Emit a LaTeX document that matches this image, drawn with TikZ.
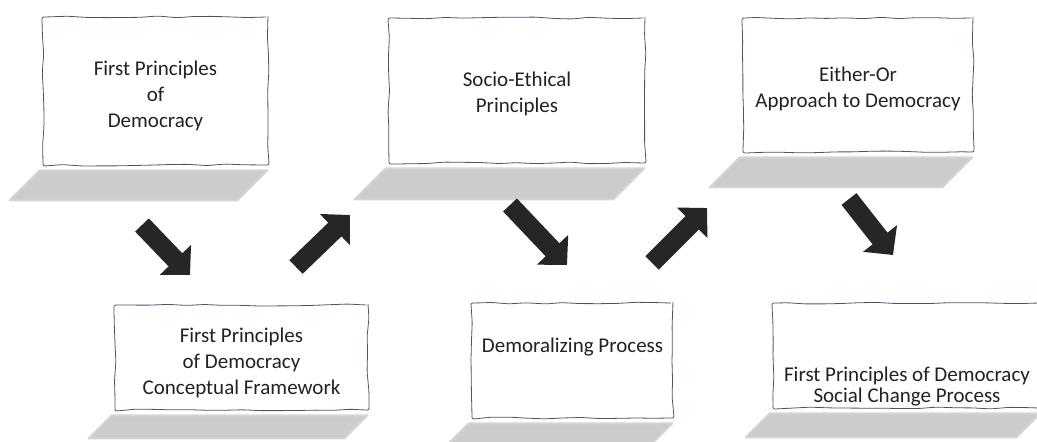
\documentclass[tikz,border=0pt]{standalone}
\usepackage{fontspec}
\setmainfont{Carlito}
\usetikzlibrary{arrows.meta,calc,decorations.pathmorphing}
\definecolor{edge}{HTML}{4A5668}
\definecolor{ink}{HTML}{222222}
\definecolor{arrowgray}{HTML}{262626}
\tikzset{
  paper/.style={draw=edge, line width=.8pt, fill=white, rounded corners=2pt,
    decorate, decoration={random steps, segment length=18pt, amplitude=1pt}},
  caption/.style={align=center, text=ink, inner sep=0pt,
    font=\fontsize{21}{26}\selectfont},
  drop/.style={fill=gray!40, draw=gray!33, line width=2pt, line join=round},
  bigarrow/.style={draw=arrowgray, line width=19pt,
    -{Triangle[length=21pt,width=42pt]}}
}

\begin{document}
\begin{tikzpicture}[x=1pt, y=-1pt]
  \useasboundingbox (0,0) rectangle (1037,442);

  % upper row
  \node (b1) [paper, minimum width=225pt, minimum height=148pt] at (155.5,91) {};
  \node (b2) [paper, minimum width=256pt, minimum height=145pt] at (517,90.5) {};
  \node (b3) [paper, minimum width=230pt, minimum height=134pt] at (858,85) {};

  % lower row
  \node (b4) [paper, minimum width=253pt, minimum height=105pt] at (241.5,357.5) {};
  \node (b5) [paper, minimum width=201pt, minimum height=115pt] at (572.5,360.5) {};
  \node (b6) [paper, minimum width=268pt, minimum height=105pt] at (907,355.5) {};

  % shadows under the boxes
  \foreach \b/\d in {b1/30, b2/31, b3/30, b4/23, b5/24, b6/24}
    \path[drop] ($(\b.south west)+(-3,5)$) -- ($(\b.south east)+(-1,5)$)
      -- ++(-\d,\d) -- ($(\b.south west)+(-3-\d,5+\d)$) -- cycle;

  \node (t1) [caption] at ([yshift=-5pt]b1.center) {First Principles\\of\\Democracy};
  \node (t2) [caption] at ([yshift=-3pt]b2.center) {Socio-Ethical\\Principles};
  \node (t3) [caption] at ([yshift=-4pt]b3.center) {Either-Or\\Approach to Democracy};
  \node (t4) [caption] at ([yshift=-5pt]b4.center) {First Principles\\of Democracy\\Conceptual Framework};
  \node (t5) [caption] at ([yshift=13pt]b5.center) {Demoralizing Process};
  \node (t6) [caption] at ([yshift=-31pt]b6.center) {First Principles of Democracy\\[-5pt]Social Change Process};

  % block arrows
  \coordinate (a1) at (142,225);  \coordinate (a1x) at (190,275);
  \coordinate (a2) at (296,267);  \coordinate (a2x) at (350,215);
  \coordinate (a3) at (510,205);  \coordinate (a3x) at (567,265);
  \coordinate (a4) at (652,263);  \coordinate (a4x) at (707,208);
  \coordinate (a5) at (849,199);  \coordinate (a5x) at (893,255);

  \draw [bigarrow] (a1) -- (a1x);
  \draw [bigarrow] (a2) -- (a2x);
  \draw [bigarrow] (a3) -- (a3x);
  \draw [bigarrow] (a4) -- (a4x);
  \draw [bigarrow] (a5) -- (a5x);
\end{tikzpicture}
\end{document}
